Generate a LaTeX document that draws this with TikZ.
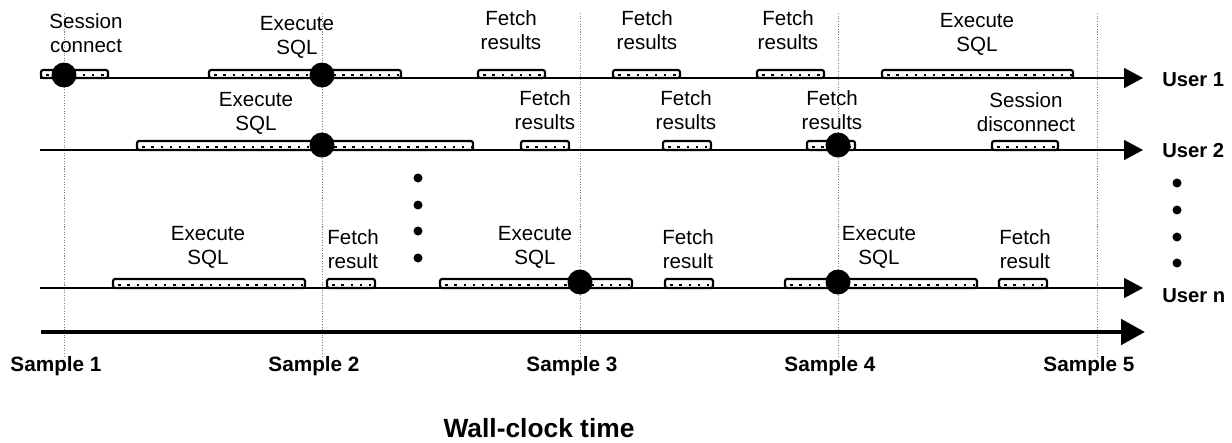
\documentclass[tikz,border=0pt]{standalone}
\usepackage{fontspec}
\setmainfont{Liberation Sans}
\usepackage{tikz}
\usetikzlibrary{arrows.meta}
\usetikzlibrary{positioning}
\tikzset{timeline/.style = {line width=0.8pt, -{Triangle[length=0.38cm, width=0.4cm]}},
         clockaxis/.style = {line width=2.8pt, -{Triangle[length=0.48cm, width=0.5cm]}},
         sampleline/.style = {gray, line width=0.4pt, dash pattern=on 0.6pt off 0.9pt},
         jobbox/.style = {draw, line width=1.2pt, rounded corners=1.2pt, fill=white,
                          path picture={\draw [line width=1.4pt, dash pattern=on 1.4pt off 3.8pt]
                            ([xshift=3pt, yshift=1.8pt]path picture bounding box.south west) --
                            ([yshift=1.8pt]path picture bounding box.south east);}},
         joblabel/.style = {align=center, inner sep=0pt, anchor=south,
                            font=\fontsize{11.7}{13.6}\selectfont},
         userlabel/.style = {anchor=base west, inner sep=0pt,
                             font=\fontsize{11.5}{13}\selectfont\bfseries},
         samplelabel/.style = {anchor=base, inner sep=0pt,
                               font=\fontsize{11.8}{13}\selectfont\bfseries}}

\begin{document}
\begin{tikzpicture}[x=0.02cm, y=-0.02cm]
    \useasboundingbox (0, 0) rectangle (1232, 443);

    % sampling instants
    \foreach \x/\n in {64/1, 322/2, 580/3, 838/4, 1097/5} {
      \draw [sampleline] (\x, 13) -- (\x, 358);
      \node [samplelabel] (sample\n) at (\x - 8, 371) {Sample \n};
    }

    % one time line per user
    \foreach \y/\u/\b in {78/1/86, 150/2/157, 288/n/302} {
      \coordinate (start\u) at (40, \y);
      \coordinate (tip\u) at (1143, \y);
      \draw [timeline] (start\u) -- (tip\u);
      \node [userlabel] (user\u) at (1162, \b) {User \u};
    }

    % busy periods
    \foreach \a/\b in {41/108, 209/401, 478/545, 613/680, 757/824, 882/1073}
      \draw [jobbox] (\a, 78) rectangle (\b, 70);
    \foreach \a/\b in {137/473, 521/569, 663/711, 807/855, 992/1058}
      \draw [jobbox] (\a, 150) rectangle (\b, 141);
    \foreach \a/\b in {113/305, 327/375, 440/632, 665/713, 785/977, 999/1047}
      \draw [jobbox] (\a, 288) rectangle (\b, 279);

    \node [joblabel] (connect1) at (86, 53) {Session\\connect};
    \node [joblabel] (exec1a) at (297, 59) {Execute\\SQL};
    \foreach \x/\k in {511/a, 647/b, 788/c}
      \node [joblabel] (fetch1\k) at (\x, 50) {Fetch\\results};
    \node [joblabel] (exec1b) at (977, 56) {Execute\\SQL};

    \node [joblabel] (exec2a) at (256, 135) {Execute\\SQL};
    \foreach \x/\k in {545/a, 686/b, 832/c}
      \node [joblabel] (fetch2\k) at (\x, 130) {Fetch\\results};
    \node [joblabel] (disconnect2) at (1026, 132) {Session\\disconnect};

    \foreach \x/\k in {208/a, 535/b, 879/c}
      \node [joblabel] (execn\k) at (\x, 269) {Execute\\SQL};
    \foreach \x/\k in {353/a, 688/b, 1025/c}
      \node [joblabel] (fetchn\k) at (\x, 269) {Fetch\\result};

    % where the samples hit a running call
    \foreach \x/\y in {64/75, 322/75, 322/145, 838/145, 580/282, 838/282}
      \fill (\x, \y) circle [radius=0.25cm];

    % more users
    \foreach \y in {178, 205, 231, 258}
      \fill (418, \y) circle [radius=0.09cm];
    \foreach \y in {183, 210, 237, 263}
      \fill (1177, \y) circle [radius=0.09cm];

    \coordinate (clock0) at (41, 332);
    \coordinate (clock1) at (1145, 332);
    \draw [clockaxis] (clock0) -- (clock1);
    \node [anchor=base, inner sep=0pt, font=\fontsize{15}{18}\selectfont\bfseries]
      (wallclock) at (539, 437) {Wall-clock time};
  \end{tikzpicture}
\end{document}
